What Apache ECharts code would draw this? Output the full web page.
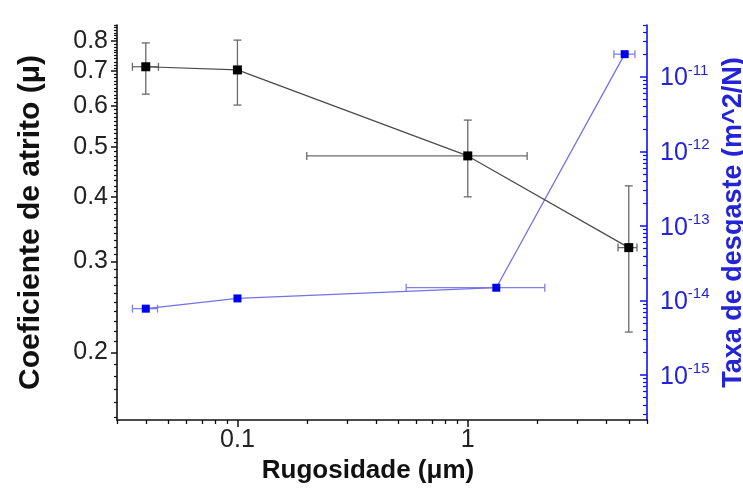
<!DOCTYPE html>
<html><head><meta charset="utf-8">
<script src="https://cdn.jsdelivr.net/npm/echarts@6/dist/echarts.min.js"></script>
<style>html,body{margin:0;padding:0;background:#fff}#c{width:743px;height:495px}</style>
</head><body><div id="c"></div>
<script>
// ---- data ----
const rugosidadeAtrito = [0.040, 0.1, 1.0, 5.0];
const coefAtrito = [0.714, 0.704, 0.480, 0.319];
const coefAtritoLow = [0.632, 0.602, 0.400, 0.219];
const coefAtritoHigh = [0.794, 0.804, 0.563, 0.420];
const rugAtritoLow = [0.035, 0.1, 0.2, 4.49];
const rugAtritoHigh = [0.0454, 0.1, 1.81, 5.43];

const rugosidadeDesgaste = [0.040, 0.1, 1.33, 4.8];
const taxaDesgaste = [7.8e-15, 1.07e-14, 1.49e-14, 2.03e-11];
const rugDesgasteLow = [0.035, 0.1, 0.54, 4.31];
const rugDesgasteHigh = [0.045, 0.1, 2.16, 5.32];

// tick labels
const xTickLabels = [0.1, 1];
const leftTickLabels = [0.2, 0.3, 0.4, 0.5, 0.6, 0.7, 0.8];
const rightTickLabels = [1e-15, 1e-14, 1e-13, 1e-12, 1e-11];

// axis ranges
const xRange = [0.03, 6];
const leftRange = [0.148, 0.86];
const rightRange = [2.5e-16, 5e-11];

// minor tick positions (log minors)
function logMinors(range, nFrom, nTo) {
  const out = [];
  for (let n = nFrom; n <= nTo; n++) {
    for (let k = 2; k <= 9; k++) {
      const v = k * Math.pow(10, n);
      if (v >= range[0] * 0.9999 && v <= range[1] * 1.0001) out.push(v);
    }
  }
  return out;
}
const xMinor = logMinors(xRange, -2, 0);
const leftMinor = [];
for (let i = 15; i <= 86; i++) { if (i % 10 !== 0) leftMinor.push(i / 100); }
const rightMinor = logMinors(rightRange, -16, -11);

const FONT = '"Liberation Sans", Arial, sans-serif';
const BLACK = '#111';
const BLUE = '#1010f0';
const BLUE_TXT = '#2323d8';

function zip(a, b) { return a.map((v, i) => [v, b[i]]); }

const errAtrito = rugosidadeAtrito.map((x, i) => [x, coefAtrito[i], rugAtritoLow[i], rugAtritoHigh[i], coefAtritoLow[i], coefAtritoHigh[i]]);
const errDesgaste = rugosidadeDesgaste.map((x, i) => [x, taxaDesgaste[i], rugDesgasteLow[i], rugDesgasteHigh[i], taxaDesgaste[i], taxaDesgaste[i]]);

function makeErr(color) {
  return function (params, api) {
    const x = api.value(0), y = api.value(1);
    const xl = api.value(2), xh = api.value(3), yl = api.value(4), yh = api.value(5);
    const cap = 4;
    const style = { stroke: color, lineWidth: 1.3, fill: null };
    const ch = [];
    const L = (a, b) => ch.push({ type: 'line', shape: { x1: a[0], y1: a[1], x2: b[0], y2: b[1] }, style });
    if (yl !== yh) {
      const p1 = api.coord([x, yl]), p2 = api.coord([x, yh]);
      L(p1, p2);
      L([p1[0] - cap, p1[1]], [p1[0] + cap, p1[1]]);
      L([p2[0] - cap, p2[1]], [p2[0] + cap, p2[1]]);
    }
    if (xl !== xh) {
      const p1 = api.coord([xl, y]), p2 = api.coord([xh, y]);
      L(p1, p2);
      L([p1[0], p1[1] - cap], [p1[0], p1[1] + cap]);
      L([p2[0], p2[1] - cap], [p2[0], p2[1] + cap]);
    }
    return { type: 'group', children: ch };
  };
}

const chart = echarts.init(document.getElementById('c'));
chart.setOption({
  animation: false,
  backgroundColor: '#fff',
  grid: { left: 117, right: 96, top: 25, bottom: 75, containLabel: false, outerBoundsMode: 'none' },
  xAxis: [
    {
      type: 'log', logBase: 10, min: xRange[0], max: xRange[1], position: 'bottom',
      axisLine: { show: true, onZero: false, lineStyle: { color: BLACK, width: 1.6 } },
      axisTick: { show: true, inside: false, length: 7, customValues: xTickLabels, lineStyle: { color: BLACK, width: 1.5 } },
      axisLabel: { customValues: xTickLabels, margin: 8, fontSize: 25, color: '#222', fontFamily: FONT, formatter: v => String(v) },
      splitLine: { show: false }, minorTick: { show: false },
      name: 'Rugosidade (μm)', nameLocation: 'middle', nameGap: 34,
      nameTextStyle: { fontSize: 26, fontWeight: 'bold', color: BLACK, fontFamily: FONT, padding: [0, 28, 0, 0] }
    },
    {
      type: 'log', logBase: 10, min: xRange[0], max: xRange[1], position: 'bottom',
      axisLine: { show: false },
      axisTick: { show: true, inside: false, length: 4, customValues: xMinor, lineStyle: { color: BLACK, width: 1.3 } },
      axisLabel: { show: false }, splitLine: { show: false }
    }
  ],
  yAxis: [
    {
      type: 'log', logBase: 10, min: leftRange[0], max: leftRange[1], position: 'left',
      axisLine: { show: true, onZero: false, lineStyle: { color: BLACK, width: 1.6 } },
      axisTick: { show: true, inside: false, length: 6, customValues: leftTickLabels, lineStyle: { color: BLACK, width: 1.5 } },
      axisLabel: { customValues: leftTickLabels, margin: 9, fontSize: 25, color: '#222', fontFamily: FONT, formatter: v => v.toFixed(1) },
      splitLine: { show: false },
      name: 'Coeficiente de atrito (μ)', nameLocation: 'middle', nameGap: 71, nameRotate: 90,
      nameTextStyle: { fontSize: 30, fontWeight: 'bold', color: BLACK, fontFamily: FONT }
    },
    {
      type: 'log', logBase: 10, min: leftRange[0], max: leftRange[1], position: 'left',
      axisLine: { show: false },
      axisTick: { show: true, inside: false, length: 3, customValues: leftMinor, lineStyle: { color: BLACK, width: 1.2 } },
      axisLabel: { show: false }, splitLine: { show: false }
    },
    {
      type: 'log', logBase: 10, min: rightRange[0], max: rightRange[1], position: 'right',
      axisLine: { show: true, onZero: false, lineStyle: { color: BLUE, width: 1.6 } },
      axisTick: { show: true, inside: true, length: 7, customValues: rightTickLabels, lineStyle: { color: BLUE, width: 1.5 } },
      axisLabel: {
        customValues: rightTickLabels, margin: 13, color: BLUE_TXT, fontFamily: FONT,
        formatter: v => '{b|10}{s|' + Math.round(Math.log10(v)) + '}',
        rich: {
          b: { fontSize: 25, lineHeight: 28, verticalAlign: 'bottom', color: BLUE_TXT, fontFamily: FONT },
          s: { fontSize: 15, lineHeight: 15, verticalAlign: 'top', color: BLUE_TXT, fontFamily: FONT }
        }
      },
      splitLine: { show: false },
      name: 'Taxa de desgaste (m^2/N)', nameLocation: 'middle', nameGap: 57, nameRotate: 90,
      nameTextStyle: { fontSize: 27, fontWeight: 'bold', color: BLUE_TXT, fontFamily: FONT }
    },
    {
      type: 'log', logBase: 10, min: rightRange[0], max: rightRange[1], position: 'right',
      axisLine: { show: false },
      axisTick: { show: true, inside: true, length: 4, customValues: rightMinor, lineStyle: { color: BLUE, width: 1.2 } },
      axisLabel: { show: false }, splitLine: { show: false }
    }
  ],
  series: [
    {
      type: 'custom', name: 'errDesgaste', xAxisIndex: 0, yAxisIndex: 2, z: 1,
      renderItem: makeErr('#8080ea'), data: errDesgaste, encode: { x: 0, y: 1 }
    },
    {
      type: 'custom', name: 'errAtrito', xAxisIndex: 0, yAxisIndex: 0, z: 1,
      renderItem: makeErr('#6a6a6a'), data: errAtrito, encode: { x: 0, y: 1 }
    },
    {
      type: 'line', name: 'Taxa de desgaste', xAxisIndex: 0, yAxisIndex: 2, z: 3,
      data: zip(rugosidadeDesgaste, taxaDesgaste),
      symbol: 'rect', symbolSize: 8, itemStyle: { color: '#0000f0' },
      lineStyle: { color: '#7272e8', width: 1.3 }
    },
    {
      type: 'line', name: 'Coeficiente de atrito', xAxisIndex: 0, yAxisIndex: 0, z: 4,
      data: zip(rugosidadeAtrito, coefAtrito),
      symbol: 'rect', symbolSize: 9, itemStyle: { color: '#000' },
      lineStyle: { color: '#4a4a4a', width: 1.2 }
    }
  ]
});
</script>
</body></html>
